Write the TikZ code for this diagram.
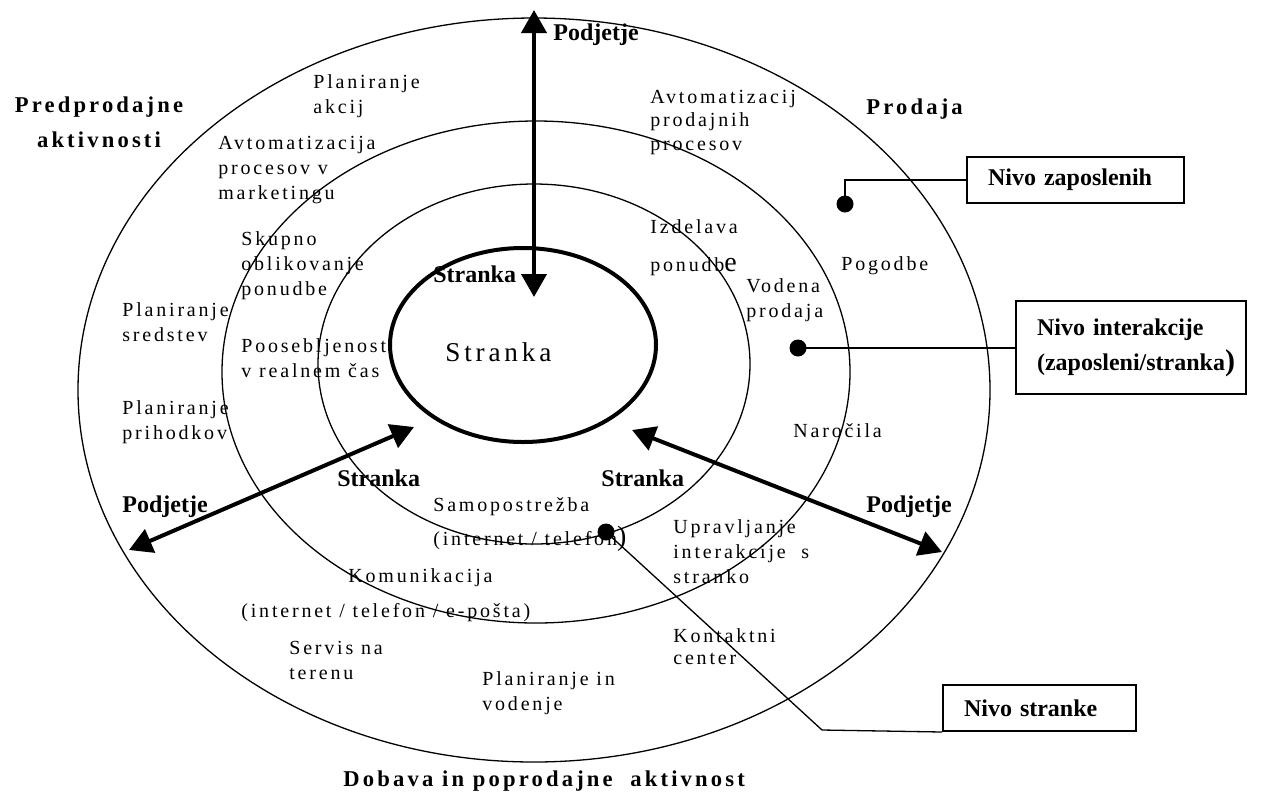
\documentclass[tikz,border=0pt]{standalone}
\usepackage{fontspec}
\setmainfont{Liberation Serif}
\newfontfamily\spc[LetterSpace=14]{Liberation Serif}
\usetikzlibrary{shapes.geometric,arrows.meta}
\begin{document}
\begin{tikzpicture}[x=0.5pt, y=-0.5pt,
    ring/.style = {draw, ellipse, inner sep=0pt, line width=0.65pt},
    lbl/.style = {anchor=base west, align=left, inner sep=0pt,
      font=\spc\fontsize{10}{12.5}\selectfont},
    hdr/.style = {anchor=base west, align=center, inner sep=0pt,
      font=\spc\bfseries\fontsize{11.3}{17.5}\selectfont},
    tag/.style = {anchor=base west, inner sep=0pt,
      font=\bfseries\fontsize{12}{14}\selectfont},
    nivo/.style = {draw, line width=1pt, anchor=north west, align=left,
      inner xsep=10.5pt, inner ysep=0pt, font=\bfseries\fontsize{12}{17.5}\selectfont},
    dot/.style = {circle, fill, inner sep=0pt, minimum size=8.5pt},
    link/.style = {line width=0.65pt},
    twoway/.style = {{Triangle[length=11.5pt,width=12.5pt]}-{Triangle[length=11.5pt,width=12.5pt]},
      line width=2pt}]
  \useasboundingbox (0,0) rectangle (1269,794);
  % rings
  \node[ring, minimum width=456pt, minimum height=372pt] (outer) at (534,390) {};
  \node[ring, minimum width=314pt, minimum height=251pt] (middle) at (536,372) {};
  \node[ring, minimum width=216pt, minimum height=180pt] (inner) at (534,364) {};
  \node[ring, line width=2pt, minimum width=133pt, minimum height=97pt] (core) at (523,345) {};
  \node[lbl, font=\spc\fontsize{13.6}{16}\selectfont] (centre) at (445,361) {Stranka};
  % arrows
  \coordinate (upT) at (534,10);
  \coordinate (upB) at (534,297);
  \coordinate (lfT) at (129,550);
  \coordinate (lfB) at (414,427);
  \coordinate (rtT) at (942,552);
  \coordinate (rtB) at (632,430);
  \draw[twoway] (upT) -- (upB);
  \draw[twoway] (lfT) -- (lfB);
  \draw[twoway] (rtT) -- (rtB);
  \node[tag] (podUp) at (553,40) {Podjetje};
  \node[tag] (podLf) at (122,512) {Podjetje};
  \node[tag] (podRt) at (866,512) {Podjetje};
  \node[tag] (strUp) at (433,282) {Stranka};
  \node[tag] (strLf) at (337,486) {Stranka};
  \node[tag] (strRt) at (601,486) {Stranka};
  % headings (base = last line)
  \node[hdr, anchor=base] (pred) at (99,147) {Predprodajne\\aktivnosti};
  \node[hdr] (prod) at (866,114) {Prodaja};
  \node[hdr] (dob) at (343,786) {Dobava in poprodajne\ \ aktivnost};
  % left side
  \node[lbl] (akcij) at (313,113) {Planiranje\\akcij};
  \node[lbl] (avtMark) at (218,199) {Avtomatizacija\\procesov v\\marketingu};
  \node[lbl] (skupno) at (241,295) {Skupno\\oblikovanje\\ponudbe};
  \node[lbl] (sredstev) at (122,341) {Planiranje\\sredstev};
  \node[lbl] (pooseb) at (241,377) {Poosebljenost\\v realnem čas};
  \node[lbl] (prihodki) at (122,439) {Planiranje\\prihodkov};
  % right side
  \node[lbl, font=\spc\fontsize{10}{11.75}\selectfont] (avtProd) at (650,150) {Avtomatizacij\\prodajnih\\procesov};
  \node[lbl] (izdelava) at (650,271) {Izdelava\\[6.5pt]ponudb{\fontsize{14}{14}\selectfont e}};
  \node[lbl] (pogodbe) at (841,270) {Pogodbe};
  \node[lbl] (vodena) at (746,317) {Vodena\\prodaja};
  \node[lbl] (narocila) at (793,437) {Naročila};
  % bottom
  \node[lbl] (samo) at (433,545) {Samopostrežba\\[4.5pt](internet / telefon{\fontsize{14}{14}\selectfont )}};
  \node[lbl] (komu) at (348,582) {Komunikacija};
  \node[lbl] (komuKanal) at (241,617) {(internet / telefon / e-pošta)};
  \node[lbl] (servis) at (289,679) {Servis na\\terenu};
  \node[lbl] (vodenje) at (482,710) {Planiranje in\\vodenje};
  \node[lbl] (upravlj) at (673,583) {Upravljanje\\interakcije\ \ s\\stranko};
  \node[lbl, font=\spc\fontsize{10}{11}\selectfont] (kontakt) at (673,664) {Kontaktni\\center};
  % levels
  \node[nivo, text width=87.5pt, minimum height=23pt] (boxA) at (966,156) {Nivo zaposlenih};
  \node[nivo, text width=94pt, minimum height=46.5pt] (boxB) at (1015,300)
    {Nivo interakcije\\(zaposleni/stranka{\fontsize{15}{15}\selectfont )}};
  \node[nivo, text width=75.5pt, minimum height=23pt] (boxC) at (942,684) {Nivo stranke};
  \node[dot] (dotA) at (845,204) {};
  \node[dot] (dotB) at (798,348) {};
  \node[dot] (dotC) at (606,532) {};
  \coordinate (bendC) at (822,730);
  \draw[link] (dotA.center) |- (boxA.west);
  \draw[link] (dotB.center) -- (dotB -| boxB.west);
  \draw[link] (dotC.center) -- (bendC) -- (boxC.south west);
\end{tikzpicture}
\end{document}
